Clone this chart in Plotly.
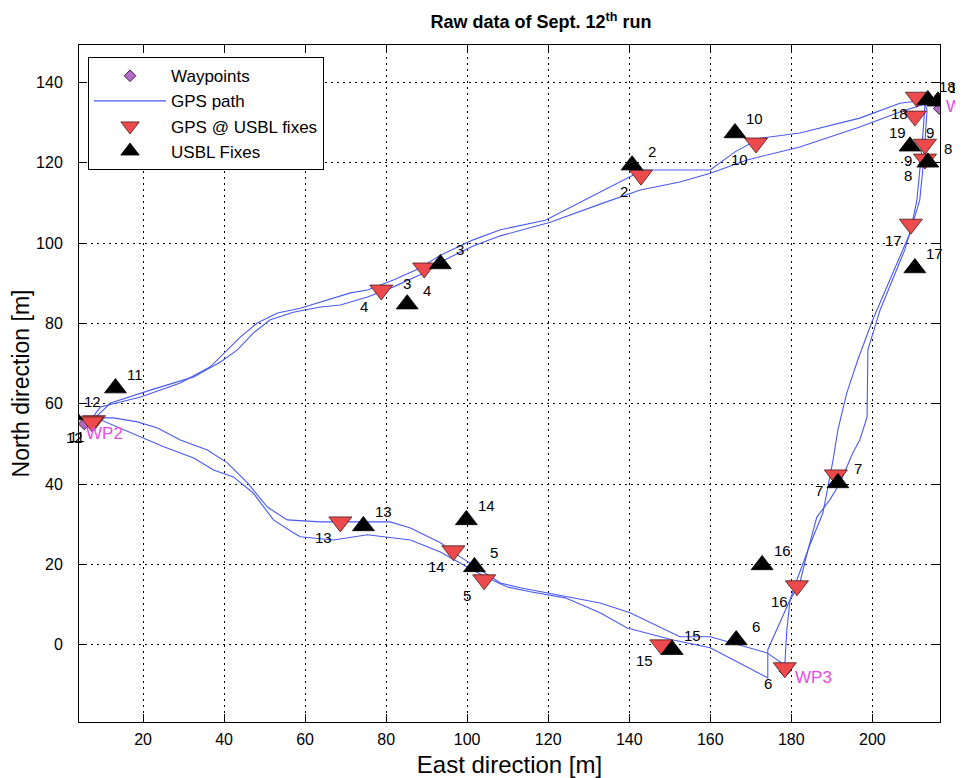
import plotly.graph_objects as go

# ---------------- data ----------------
# Waypoints
wp_names = ["WP1", "WP2", "WP3"]
wp_x = [216.5, 5.5, 178.4]
wp_y = [133.5, 55.0, -6.5]

# GPS path, first lap
lap1_x = [7.1, 9.5, 19.4, 29.2, 36.6, 39.9, 44.0, 48.2, 53.2, 58.8, 63.8, 71.2, 75.4, 81.8,
          88.4, 93.4, 101.5, 108.2, 119.3, 132.8, 143.4, 160.0, 166.1, 172.3, 182.1, 196.9,
          206.8, 213.0,
          213.0, 212.2, 211.0, 209.3, 204.3, 200.1, 196.4, 193.7, 191.5, 190.3, 187.8, 184.6,
          181.4, 179.7, 178.9, 178.4, 174.0,
          160.0, 152.5, 140.2, 132.8, 123.0, 113.1, 108.2, 103.2, 98.3, 93.4, 86.0, 81.0,
          63.8, 55.6, 50.7, 45.8, 40.8, 35.9, 29.2, 23.6, 18.6, 12.7, 7.8]
lap1_y = [56.0, 59.2, 61.7, 65.2, 69.2, 72.6, 76.6, 80.1, 82.6, 83.8, 85.3, 87.6, 88.3, 90.8,
          93.8, 97.0, 100.8, 103.3, 105.7, 112.7, 118.2, 118.2, 122.7, 126.1, 127.4, 131.1,
          134.8, 135.6,
          134.4, 123.2, 110.7, 102.5, 90.8, 80.9, 70.9, 62.7, 53.5, 46.0, 32.8, 24.9,
          16.2, 11.2, 3.7, -5.0, -2.0,
          2.0, 2.0, 8.0, 10.4, 12.2, 14.2, 15.4, 18.7, 21.9, 25.4, 29.1, 30.6,
          30.6, 31.1, 34.3, 40.3, 45.3, 48.5, 51.0, 54.0, 55.5, 56.5, 56.5]

# GPS path, second lap
lap2_x = [7.1, 12.0, 21.8, 32.5, 39.1, 43.3, 47.2, 51.4, 57.1, 63.8, 68.7, 75.4, 81.8, 88.4,
          93.4, 101.5, 108.2, 120.5, 132.8, 142.7, 152.5, 160.0, 169.1, 182.1, 196.9, 206.8,
          213.0,
          213.5, 212.7, 211.7, 208.0, 201.9, 198.9, 198.7, 196.9, 195.2, 192.0, 189.5, 186.3,
          184.1, 182.1, 179.7, 174.2, 174.2,
          160.0, 150.8, 139.5, 132.8, 124.2, 115.6, 109.9, 105.0, 100.0, 93.4, 86.0, 75.4,
          67.0, 58.8, 57.1, 52.2, 47.2, 42.3, 37.4, 32.5, 25.1, 20.1, 15.2, 9.5, 6.6]
lap2_y = [55.5, 60.2, 63.4, 66.7, 70.4, 73.4, 77.6, 80.9, 82.8, 84.1, 84.6, 86.6, 89.1, 92.1,
          95.3, 99.3, 101.8, 105.2, 109.7, 113.2, 115.2, 117.4, 120.7, 123.9, 128.9, 132.6,
          134.6,
          133.1, 120.7, 110.7, 98.3, 83.3, 73.4, 56.7, 51.0, 47.8, 40.3, 36.1, 31.8,
          23.6, 15.4, 11.2, -1.2, -8.2,
          -0.7, 1.2, 4.2, 8.0, 11.7, 13.2, 14.4, 16.7, 19.4, 23.1, 26.1, 27.4,
          26.1, 26.9, 27.9, 31.1, 37.8, 41.8, 43.5, 46.5, 49.3, 51.5, 53.5, 56.0, 55.2]

# fix numbers
fix_ids = ["2", "3", "4", "5", "6", "7", "8", "9", "10",
           "11", "12", "13", "14", "15", "16", "17", "18", "19"]
# GPS position at USBL fixes
gps_fix_x = [142.9, 89.4, 78.8, 104.2, 178.4, 191.0, 213.0, 213.0, 171.3,
             7.9, 7.4, 68.7, 96.6, 147.9, 181.4, 209.5, 211.0, 210.5]
gps_fix_y = [116.9, 93.8, 88.3, 16.2, -5.7, 42.3, 120.9, 124.6, 124.9,
             55.8, 55.5, 30.6, 23.4, 0.0, 14.7, 104.7, 136.3, 131.6]
# USBL fixes
usbl_x = [140.7, 93.4, 85.2, 101.8, 166.4, 191.5, 213.7, 209.3, 166.1,
          13.2, 2.5, 74.4, 99.8, 150.6, 172.8, 210.5, 213.7, 216.2]
usbl_y = [119.4, 94.8, 84.8, 19.4, 1.2, 40.3, 120.1, 124.1, 127.4,
          63.9, 57.2, 29.6, 31.1, -1.2, 19.9, 93.8, 135.6, 135.3]

x_ticks = [20, 40, 60, 80, 100, 120, 140, 160, 180, 200]
y_ticks = [0, 20, 40, 60, 80, 100, 120, 140]

X_RANGE = [4.2, 216.7]
Y_RANGE = [-19.2, 149.3]

# ---------------- figure ----------------
FONT = "Liberation Sans, Arial, sans-serif"
# page body has an 8px margin: the figure is sized so that it fills the 963x778 window
W, H = 955, 770
ML, MR, MT, MB = 71, 23, 37, 56
plot_w = W - ML - MR
px_per_x = plot_w / (X_RANGE[1] - X_RANGE[0])

fig = go.Figure()

fig.add_trace(go.Scatter(
    x=wp_x, y=wp_y, mode="markers", name="Waypoints",
    marker=dict(symbol="diamond", size=9, color="#b36bc6",
                line=dict(color="#3a2040", width=1))))
fig.add_trace(go.Scatter(
    x=lap1_x, y=lap1_y, mode="lines", name="GPS path", legendgroup="gps",
    line=dict(color="#4a5af0", width=1.1)))
fig.add_trace(go.Scatter(
    x=lap2_x, y=lap2_y, mode="lines", name="GPS path", legendgroup="gps",
    showlegend=False, line=dict(color="#4a5af0", width=1.1)))
fig.add_trace(go.Scatter(
    x=gps_fix_x, y=gps_fix_y, mode="markers", name="GPS @ USBL fixes",
    marker=dict(symbol="triangle-down", size=20, color="#ec4a4c",
                line=dict(color="#4a1a1a", width=0.8))))
fig.add_trace(go.Scatter(
    x=usbl_x, y=usbl_y, mode="markers", name="USBL Fixes",
    marker=dict(symbol="triangle-up", size=19, color="black",
                line=dict(color="black", width=0.8))))


def label(x, y, text, dx, dy, color="black", anchor="center", size=15):
    # keep the anchor inside the axis range (annotations outside are hidden)
    xa = min(max(x, X_RANGE[0] + 0.05), X_RANGE[1] - 0.05)
    dx = dx + (x - xa) * px_per_x
    return dict(x=xa, y=y, text=text, showarrow=False, xanchor=anchor,
                xshift=dx, yshift=dy, font=dict(size=size, color=color, family=FONT))


ann = []
for i, lab in enumerate(fix_ids):
    ann.append(label(usbl_x[i], usbl_y[i], lab, 20, 14))
    ann.append(label(gps_fix_x[i], gps_fix_y[i], lab, -17, -16))
wp_shift = [(5, 2), (0, -10), (8, -7)]
for i, name in enumerate(wp_names):
    ann.append(label(wp_x[i], wp_y[i], name, wp_shift[i][0], wp_shift[i][1],
                     color="#e64ce6", anchor="left", size=17))

axis_common = dict(
    showline=True, linecolor="black", linewidth=1, mirror="ticks",
    ticks="inside", ticklen=8, tickcolor="black", tickwidth=1,
    showgrid=True, gridcolor="black", gridwidth=1, griddash="2px,4px",
    zeroline=False, tickfont=dict(size=16, color="black", family=FONT),
    automargin=False,
)

fig.update_layout(
    width=W, height=H,
    margin=dict(l=ML, r=MR, t=MT, b=MB),
    paper_bgcolor="white", plot_bgcolor="white",
    font=dict(family=FONT, color="black"),
    title=dict(text="<b>Raw data of Sept. 12<sup>th</sup> run</b>",
               x=533 / W, xanchor="center",
               y=1 - 14 / H, yanchor="middle",
               font=dict(size=18, color="black", family=FONT)),
    xaxis=dict(range=X_RANGE, tickvals=x_ticks, ticklabelstandoff=3,
               title=dict(text="East direction [m]", standoff=9,
                          font=dict(size=24, color="black", family=FONT)),
               **axis_common),
    yaxis=dict(range=Y_RANGE, tickvals=y_ticks, ticklabelstandoff=12,
               title=dict(text="North direction [m]", standoff=2,
                          font=dict(size=23, color="black", family=FONT)),
               **axis_common),
    legend=dict(x=0.0105, y=0.982, xanchor="left", yanchor="top",
                bgcolor="white", bordercolor="black", borderwidth=1,
                font=dict(size=17, color="black", family=FONT),
                itemwidth=72, tracegroupgap=0),
    annotations=ann,
    showlegend=True,
)

fig.write_html("out.html")
